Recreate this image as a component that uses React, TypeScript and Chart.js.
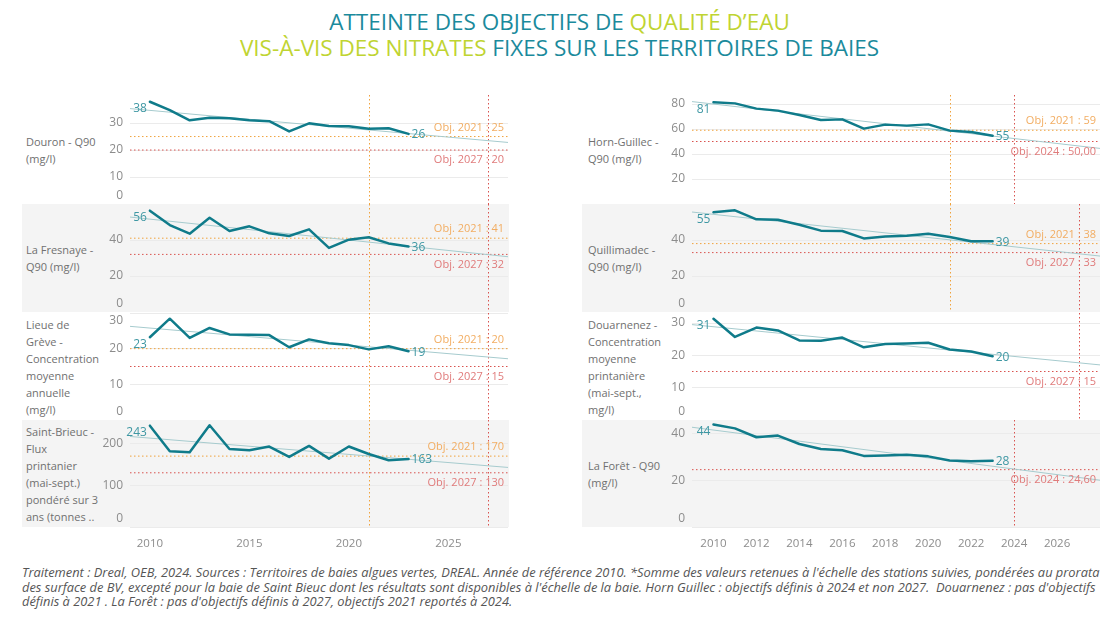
import React, { useEffect, useRef } from "react";
import { Chart, registerables } from "chart.js";

Chart.register(...registerables);

// ---------------- DATA ----------------
const years = [2010, 2011, 2012, 2013, 2014, 2015, 2016, 2017, 2018, 2019, 2020, 2021, 2022, 2023];

const douron = [37.9, 34.8, 31.0, 32.0, 31.8, 31.0, 30.7, 26.9, 29.9, 28.9, 28.8, 27.9, 28.1, 26.0];
const laFresnaye = [56.3, 48.3, 43.5, 52.4, 45.0, 47.6, 43.7, 42.2, 45.9, 35.6, 40.2, 41.5, 38.1, 36.4];
const lieueDeGreve = [23.2, 28.4, 23.0, 25.8, 24.0, 23.9, 23.8, 20.4, 22.6, 21.5, 21.0, 19.8, 20.7, 19.3];
const saintBrieuc = [243, 181.5, 179, 244, 187, 184, 193, 168, 194.5, 164, 193, 175, 160, 163];
const hornGuillec = [81.4, 80.5, 76.3, 74.7, 71.2, 67.2, 67.7, 60.3, 63.5, 62.7, 63.7, 58.7, 57.6, 54.6];
const quillimadec = [55.4, 56.5, 51.5, 51.3, 48.5, 45.2, 45.0, 40.9, 41.9, 42.4, 43.5, 41.7, 39.3, 39.3];
const douarnenez = [31.3, 25.7, 28.6, 27.7, 24.6, 24.5, 25.5, 22.5, 23.5, 23.7, 23.9, 21.8, 21.2, 19.7];
const laForet = [44.0, 42.3, 38.5, 39.2, 35.6, 33.5, 32.9, 30.5, 30.7, 31.0, 30.3, 28.5, 28.2, 28.4];

const xTicksLeft = [2010, 2015, 2020, 2025];
const xTicksRight = [2010, 2012, 2014, 2016, 2018, 2020, 2022, 2024, 2026];
const X_MIN = 2009;
const X_MAX = 2028;

// objectives (first = 2021 orange, second = red)
const objFirstValues = [25, 41, 20, 170, 59, 38, null, null];
const objFirstYears = [2021, 2021, 2021, 2021, 2021, 2021, null, null];
const objFirstLabels = ["Obj. 2021 : 25", "Obj. 2021 : 41", "Obj. 2021 : 20", "Obj. 2021 : 170", "Obj. 2021 : 59", "Obj. 2021 : 38", "", ""];
const objSecondValues = [20, 32, 15, 130, 50, 33, 15, 24.6];
const objSecondYears = [2027, 2027, 2027, 2027, 2024, 2027, 2027, 2024];
const objSecondLabels = ["Obj. 2027 : 20", "Obj. 2027 : 32", "Obj. 2027 : 15", "Obj. 2027 : 130", "Obj. 2024 : 50,00", "Obj. 2027 : 33", "Obj. 2027 : 15", "Obj. 2024 : 24,60"];

const yMaxes = [40.4, 60, 30, 256.6, 87.2, 60, 33.1, 45.9];
const yTickSets = [
  [0, 10, 20, 30],
  [0, 20, 40],
  [0, 10, 20, 30],
  [0, 100, 200],
  [20, 40, 60, 80],
  [0, 20, 40],
  [0, 10, 20, 30],
  [0, 20, 40],
];

const rowLabels = [
  ["Douron - Q90", "(mg/l)"],
  ["La Fresnaye -", "Q90 (mg/l)"],
  ["Lieue de", "Grève -", "Concentration", "moyenne", "annuelle", "(mg/l)"],
  ["Saint-Brieuc -", "Flux", "printanier", "(mai-sept.)", "pondéré sur 3", "ans (tonnes .."],
  ["Horn-Guillec -", "Q90 (mg/l)"],
  ["Quillimadec -", "Q90 (mg/l)"],
  ["Douarnenez -", "Concentration", "moyenne", "printanière", "(mai-sept.,", "mg/l)"],
  ["La Forêt - Q90", "(mg/l)"],
];

const seriesList = [douron, laFresnaye, lieueDeGreve, saintBrieuc, hornGuillec, quillimadec, douarnenez, laForet];

// ---------------- STYLE / LAYOUT ----------------
const MAIN = "#0f7b8a";
const TREND = "#a6cbce";
const VALUE_LABEL = "#3e97a3";
const O21_LINE = "#f0a23c";
const O21_TEXT = "#f2ad62";
const O27_LINE = "#d9534f";
const O27_TEXT = "#e07b7b";
const GRID = "#ebebeb";
const TICK = "#8c8c8c";
const ROW_TEXT = "#707070";
const BAND = "#f4f4f4";
const FONT = "'Open Sans', 'DejaVu Sans', sans-serif";

const ROW_TOP = [95, 204, 313, 420];
const ROW_H = [109, 108, 107, 107];
const COLS = [
  { bandLeft: 22, bandRight: 509, labelX: 26, canvasLeft: 98, plotRight: 508, xTicks: xTicksLeft },
  { bandLeft: 582, bandRight: 1100, labelX: 588, canvasLeft: 660, plotRight: 1100, xTicks: xTicksRight },
];
const AXIS_W = 32;
const XAXIS_H = 30;

function regression(xs: number[], ys: number[]) {
  const n = xs.length;
  const mx = xs.reduce((a, b) => a + b, 0) / n;
  const my = ys.reduce((a, b) => a + b, 0) / n;
  let sxy = 0;
  let sxx = 0;
  for (let i = 0; i < n; i++) {
    sxy += (xs[i] - mx) * (ys[i] - my);
    sxx += (xs[i] - mx) * (xs[i] - mx);
  }
  const b = sxy / sxx;
  return (x: number) => my + b * (x - mx);
}

function dotted(ctx: CanvasRenderingContext2D, color: string) {
  ctx.strokeStyle = color;
  ctx.lineWidth = 1;
  ctx.setLineDash([1.5, 2.5]);
}

function Panel({ idx }: { idx: number }) {
  const ref = useRef<HTMLCanvasElement>(null);
  const col = idx < 4 ? 0 : 1;
  const row = idx % 4;
  const C = COLS[col];
  const isBottom = row === 3;
  const width = C.plotRight - C.canvasLeft;
  const height = ROW_H[row] + (isBottom ? XAXIS_H : 0);

  useEffect(() => {
    const values = seriesList[idx];
    const trend = regression(years, values);
    const o1 = objFirstValues[idx];
    const o2 = objSecondValues[idx];
    const datasets: any[] = [
      {
        data: years.map((y, i) => ({ x: y, y: values[i] })),
        borderColor: MAIN,
        borderWidth: 2.5,
        pointRadius: 0,
        tension: 0,
        borderJoinStyle: "round",
        borderCapStyle: "round",
      },
      {
        data: [
          { x: X_MIN, y: trend(X_MIN) },
          { x: X_MAX, y: trend(X_MAX) },
        ],
        borderColor: TREND,
        borderWidth: 1,
        pointRadius: 0,
      },
    ];
    if (o1 !== null) {
      datasets.push({
        data: [
          { x: X_MIN, y: o1 },
          { x: X_MAX, y: o1 },
        ],
        borderColor: O21_LINE,
        borderWidth: 1,
        borderDash: [1.5, 2.5],
        pointRadius: 0,
      });
    }
    datasets.push({
      data: [
        { x: X_MIN, y: o2 },
        { x: X_MAX, y: o2 },
      ],
      borderColor: O27_LINE,
      borderWidth: 1,
      borderDash: [1.5, 2.5],
      pointRadius: 0,
    });

    const decor = {
      id: "decor" + idx,
      beforeDraw(chart: any) {
        const ca = chart.chartArea;
        const items = chart.scales.y.getLabelItems(ca);
        for (const it of items) {
          const t = it.options.translation;
          t[1] = Math.min(Math.max(t[1], ca.top + 8), ca.bottom - 8);
        }
      },
      beforeDatasetsDraw(chart: any) {
        const ctx: CanvasRenderingContext2D = chart.ctx;
        const ca = chart.chartArea;
        const xs = chart.scales.x;
        ctx.save();
        const vl: [number | null, string][] = [
          [objFirstYears[idx], O21_LINE],
          [objSecondYears[idx], O27_LINE],
        ];
        for (const [yr, color] of vl) {
          if (yr === null) continue;
          const px = Math.round(xs.getPixelForValue(yr)) + 0.5;
          dotted(ctx, color);
          ctx.beginPath();
          ctx.moveTo(px, ca.top);
          ctx.lineTo(px, ca.bottom);
          ctx.stroke();
        }
        ctx.restore();
      },
      afterDatasetsDraw(chart: any) {
        const ctx: CanvasRenderingContext2D = chart.ctx;
        const ca = chart.chartArea;
        const ys = chart.scales.y;
        ctx.save();
        ctx.font = `11px ${FONT}`;
        ctx.textAlign = "right";
        ctx.textBaseline = "middle";
        if (o1 !== null) {
          ctx.fillStyle = O21_TEXT;
          ctx.fillText(objFirstLabels[idx], ca.right - 4, ys.getPixelForValue(o1) - 9);
        }
        ctx.fillStyle = O27_TEXT;
        ctx.fillText(objSecondLabels[idx], ca.right - 4, ys.getPixelForValue(o2) + 10);

        const pts = chart.getDatasetMeta(0).data;
        const first = pts[0];
        const last = pts[pts.length - 1];
        ctx.font = `12px ${FONT}`;
        ctx.fillStyle = VALUE_LABEL;
        ctx.textAlign = "right";
        ctx.fillText(String(Math.round(values[0])), first.x - 3, first.y + 7);
        ctx.textAlign = "left";
        ctx.fillText(String(Math.round(values[values.length - 1])), last.x + 3, last.y + 1);
        ctx.restore();
      },
    };

    const chart = new Chart(ref.current as HTMLCanvasElement, {
      type: "line",
      data: { datasets },
      options: {
        animation: false,
        responsive: true,
        maintainAspectRatio: false,
        layout: { padding: 0, autoPadding: false } as any,
        plugins: { legend: { display: false }, tooltip: { enabled: false } },
        scales: {
          x: {
            type: "linear",
            min: X_MIN,
            max: X_MAX,
            display: isBottom,
            afterBuildTicks: (s: any) => {
              s.ticks = C.xTicks.map((v) => ({ value: v }));
            },
            afterFit: (s: any) => {
              s.height = isBottom ? XAXIS_H : 0;
              s.paddingLeft = 0;
              s.paddingRight = 0;
            },
            ticks: {
              callback: (v: any) => String(v),
              color: TICK,
              font: { family: FONT, size: 11.5 },
              padding: 10,
              maxRotation: 0,
              autoSkip: false,
            },
            grid: { display: false, drawTicks: false },
            border: { display: false },
          },
          y: {
            type: "linear",
            min: 0,
            max: yMaxes[idx],
            afterBuildTicks: (s: any) => {
              s.ticks = yTickSets[idx].map((v) => ({ value: v }));
            },
            afterFit: (s: any) => {
              s.width = AXIS_W;
              s.paddingTop = 0;
              s.paddingBottom = 0;
            },
            ticks: {
              callback: (v: any) => String(v),
              color: TICK,
              font: { family: FONT, size: 12 },
              padding: 7,
            },
            grid: { color: GRID, drawTicks: false },
            border: { display: false },
          },
        },
      } as any,
      plugins: [decor],
    });
    return () => chart.destroy();
  }, [idx]);

  return (
    <div
      style={{
        position: "absolute",
        left: C.canvasLeft,
        top: ROW_TOP[row],
        width,
        height,
      }}
    >
      <canvas ref={ref} />
    </div>
  );
}

export default function App() {
  const bands: React.ReactNode[] = [];
  const labels: React.ReactNode[] = [];
  for (let idx = 0; idx < 8; idx++) {
    const col = idx < 4 ? 0 : 1;
    const row = idx % 4;
    const C = COLS[col];
    if (row % 2 === 1) {
      bands.push(
        <div
          key={"b" + idx}
          style={{
            position: "absolute",
            left: C.bandLeft,
            top: ROW_TOP[row],
            width: C.bandRight - C.bandLeft,
            height: ROW_H[row],
            background: BAND,
          }}
        />
      );
    }
    labels.push(
      <div
        key={"l" + idx}
        style={{
          position: "absolute",
          left: C.labelX,
          top: ROW_TOP[row],
          height: ROW_H[row],
          width: 80,
          display: "flex",
          flexDirection: "column",
          justifyContent: "center",
          fontFamily: FONT,
          fontSize: 11,
          lineHeight: "17px",
          color: ROW_TEXT,
          whiteSpace: "nowrap",
        }}
      >
        {rowLabels[idx].map((t, i) => (
          <div key={i}>{t}</div>
        ))}
      </div>
    );
  }

  const teal = "#1b8a9c";
  const green = "#bfd432";

  return (
    <div
      style={{
        position: "absolute",
        left: 0,
        top: 0,
        width: 1119,
        height: 634,
        background: "#ffffff",
        overflow: "hidden",
      }}
    >
      <div
        style={{
          position: "absolute",
          left: 0,
          top: 9,
          width: 1119,
          textAlign: "center",
          fontFamily: FONT,
          fontSize: 22.5,
          lineHeight: "26px",
        }}
      >
        <div>
          <span style={{ color: teal }}>ATTEINTE DES OBJECTIFS DE </span>
          <span style={{ color: green }}>QUALITÉ D’EAU</span>
        </div>
        <div>
          <span style={{ color: green }}>VIS-À-VIS DES NITRATES </span>
          <span style={{ color: teal }}>FIXES SUR LES TERRITOIRES DE BAIES</span>
        </div>
      </div>
      {bands}
      {labels}
      {[0, 1, 2, 3, 4, 5, 6, 7].map((i) => (
        <Panel key={i} idx={i} />
      ))}
      <div
        style={{
          position: "absolute",
          left: 22,
          top: 565,
          width: 1095,
          fontFamily: FONT,
          fontStyle: "italic",
          fontSize: 12.85,
          lineHeight: "14.5px",
          color: "#555555",
          whiteSpace: "nowrap",
        }}
      >
        <div>
          Traitement : Dreal, OEB, 2024. Sources : Territoires de baies algues vertes, DREAL. Année de référence 2010. *Somme des valeurs retenues à l'échelle des stations suivies, pondérées au prorata
        </div>
        <div>
          des surface de BV, excepté pour la baie de Saint Bieuc dont les résultats sont disponibles à l'échelle de la baie. Horn Guillec : objectifs définis à 2024 et non 2027.&nbsp; Douarnenez : pas d'objectifs
        </div>
        <div>définis à 2021 . La Forêt : pas d'objectifs définis à 2027, objectifs 2021 reportés à 2024.</div>
      </div>
    </div>
  );
}
